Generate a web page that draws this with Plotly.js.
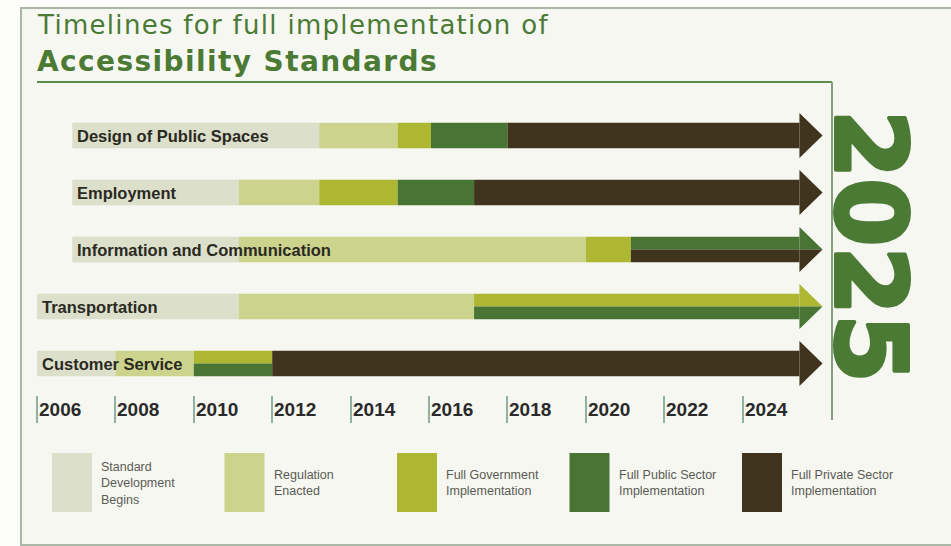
<!DOCTYPE html>
<html>
<head>
<meta charset="utf-8">
<script src="https://cdn.plot.ly/plotly-3.0.1.min.js"></script>
<style>html,body{margin:0;padding:0;background:#fdfdfc;}</style>
</head>
<body>
<div id="chart" style="width:951px;height:546px"></div>
<script>
// ---------------- data ----------------
const rows = ['Design of Public Spaces', 'Employment', 'Information and Communication', 'Transportation', 'Customer Service'];
const stages = ['Standard Development Begins', 'Regulation Enacted', 'Full Government Implementation', 'Full Public Sector Implementation', 'Full Private Sector Implementation'];
const legendLabels = ['Standard<br>Development<br>Begins', 'Regulation<br>Enacted', 'Full Government<br>Implementation', 'Full Public Sector<br>Implementation', 'Full Private Sector<br>Implementation'];
const stageColors = ['#dcdfca', '#cbd38c', '#adb731', '#487533', '#41341f'];
const tickYears = [2006, 2008, 2010, 2012, 2014, 2016, 2018, 2020, 2022, 2024];
const endYear = 2025.45;   // all timelines run on to 2025
const targetLabel = '2025';

// stage boundaries per row (years)
const stdStart  = [2006.9, 2006.9, 2006.9, 2006.0, 2006.0];
const regStart  = [2013.2, 2011.15, 2011.15, 2011.15, 2008.0];
const govStart  = [2015.2, 2013.2, 2020.0, 2017.15, 2010.0];
const govEnd    = [2016.05, 2015.2, 2021.15, endYear, 2012.0];
const pubStart  = [2016.05, 2015.2, 2021.15, 2017.15, 2010.0];
const pubEnd    = [2018.0, 2017.15, endYear, endYear, 2012.0];
const privStart = [2018.0, 2017.15, 2021.15, null, 2012.0];
// which part of the bar height a stage occupies
const govLane  = ['full', 'full', 'full', 'top', 'top'];
const pubLane  = ['full', 'full', 'top', 'bottom', 'bottom'];
const privLane = ['full', 'full', 'bottom', null, 'full'];

// ---------------- geometry / style ----------------
const W = 951, H = 546;
const PX_PER_YEAR = 39.2, X0_PX = 37;          // 2006 tick at x=37px
const ROW0_PX = 135.5, ROW_PX = 57;            // row centres
const BAR = 0.45, HEAD_HALF = 0.395, HEAD_LEN = 0.59;
const px = v => v / W, py = v => 1 - v / H;
const sans = '"Liberation Sans", Arial, sans-serif';
const green = '#4b7a34';

const allFull = rows.map(() => 'full');
const segs = [
  {s: stdStart, e: regStart, lane: allFull},
  {s: regStart, e: govStart, lane: allFull},
  {s: govStart, e: govEnd, lane: govLane},
  {s: pubStart, e: pubEnd, lane: pubLane},
  {s: privStart, e: rows.map(() => endYear), lane: privLane}
];
const laneW = l => l === 'full' ? BAR : BAR / 2;
const laneOff = l => l === 'bottom' ? 0 : -BAR / 2;

const traces = [];
segs.forEach((sg, k) => {
  const idx = rows.map((_, i) => i).filter(i => sg.s[i] !== null);
  traces.push({
    type: 'bar', orientation: 'h', name: stages[k],
    y: idx, base: idx.map(i => sg.s[i]), x: idx.map(i => sg.e[i] - sg.s[i]),
    width: idx.map(i => laneW(sg.lane[i])), offset: idx.map(i => laneOff(sg.lane[i])),
    marker: {color: stageColors[k], line: {width: 0}},
    hoverinfo: 'name', showlegend: false
  });
});
// arrow heads
segs.forEach((sg, k) => {
  const xs = [], ys = [];
  rows.forEach((_, i) => {
    if (sg.s[i] === null || sg.e[i] !== endYear) return;
    const l = sg.lane[i];
    const top = l === 'bottom' ? i : i - HEAD_HALF;
    const bot = l === 'top' ? i : i + HEAD_HALF;
    xs.push(endYear, endYear, endYear + HEAD_LEN, endYear, null);
    ys.push(top, bot, i, top, null);
  });
  if (xs.length) traces.push({
    type: 'scatter', mode: 'lines', x: xs, y: ys, fill: 'toself',
    fillcolor: stageColors[k], line: {width: 0, color: stageColors[k]},
    hoverinfo: 'skip', showlegend: false
  });
});

// ---------------- decorations ----------------
const shapes = [
  {type: 'rect', xref: 'paper', yref: 'paper', x0: px(21), x1: px(960), y0: py(545), y1: py(8),
   fillcolor: '#f6f7f1', line: {color: '#aab6a6', width: 2}, layer: 'below'},
  {type: 'line', xref: 'paper', yref: 'paper', x0: px(37), x1: px(832), y0: py(82), y1: py(82),
   line: {color: '#5f8c4d', width: 2}},
  {type: 'line', xref: 'paper', yref: 'paper', x0: px(832), x1: px(832), y0: py(82), y1: py(420),
   line: {color: '#86a07f', width: 2}}
];
const annotations = [
  {xref: 'paper', yref: 'paper', x: px(35), y: py(25), xanchor: 'left', yanchor: 'middle', showarrow: false,
   text: '<span style="letter-spacing:1.3px">Timelines for full implementation of</span>',
   font: {family: 'DejaVu Sans', size: 26, color: green}},
  {xref: 'paper', yref: 'paper', x: px(35), y: py(61), xanchor: 'left', yanchor: 'middle', showarrow: false,
   text: '<span style="letter-spacing:1.4px"><b>Accessibility Standards</b></span>',
   font: {family: 'DejaVu Sans', size: 28, color: green}},
  {xref: 'paper', yref: 'paper', x: px(870), y: py(246), xanchor: 'center', yanchor: 'middle', showarrow: false,
   text: '<span style="stroke:#4b7a34;stroke-width:4px;stroke-linejoin:round"><b>' + targetLabel + '</b></span>', textangle: 90,
   font: {family: 'DejaVu Sans', size: 98, color: green}}
];
rows.forEach((r, i) => annotations.push({
  x: stdStart[i], y: i, xref: 'x', yref: 'y', xanchor: 'left', yanchor: 'middle', xshift: 3, showarrow: false,
  text: '<b>' + r + '</b>', font: {family: sans, size: 16.5, color: '#2a2922'}
}));
tickYears.forEach(t => annotations.push({
  x: t, y: py(409), xref: 'x', yref: 'paper', xanchor: 'left', yanchor: 'middle', xshift: 0, showarrow: false,
  text: '<b>' + t + '</b>', font: {family: sans, size: 19, color: '#2a2a2a'}
}));
stages.forEach((s, k) => {
  const x0 = 52 + k * 172.5;
  shapes.push({type: 'rect', xref: 'paper', yref: 'paper', x0: px(x0), x1: px(x0 + 40), y0: py(512), y1: py(453),
    fillcolor: stageColors[k], line: {width: 0}});
  annotations.push({xref: 'paper', yref: 'paper', x: px(x0 + 47), y: py(483), xanchor: 'left', yanchor: 'middle',
    align: 'left', showarrow: false, text: legendLabels[k], font: {family: sans, size: 12.5, color: '#5b5b55'}});
});

const layout = {
  width: W, height: H, margin: {l: 0, r: 0, t: 0, b: 0},
  paper_bgcolor: '#fdfdfc', plot_bgcolor: 'rgba(0,0,0,0)',
  barmode: 'overlay', showlegend: false,
  xaxis: {range: [2006 - X0_PX / PX_PER_YEAR, 2006 + (W - X0_PX) / PX_PER_YEAR],
          showgrid: false, zeroline: false, showline: false,
          anchor: 'free', position: py(395), side: 'bottom',
          ticks: 'outside', ticklen: 27, tickwidth: 2, tickcolor: '#8db1a3',
          tickmode: 'array', tickvals: tickYears, showticklabels: false, fixedrange: true},
  yaxis: {range: [(H - ROW0_PX) / ROW_PX, -ROW0_PX / ROW_PX], visible: false, fixedrange: true},
  shapes: shapes, annotations: annotations
};
Plotly.newPlot('chart', traces, layout, {displayModeBar: false, staticPlot: true});
</script>
</body>
</html>
